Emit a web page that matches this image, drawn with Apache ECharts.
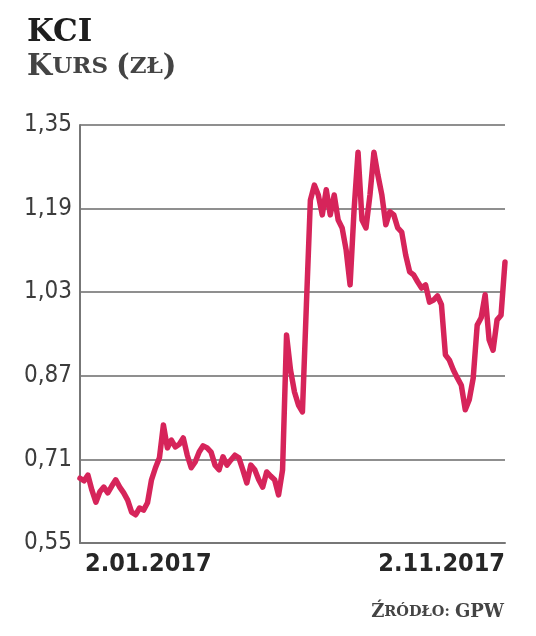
<!DOCTYPE html>
<html>
<head>
<meta charset="utf-8">
<script src="https://cdn.jsdelivr.net/npm/echarts@6/dist/echarts.min.js"></script>
<style>
html,body{margin:0;padding:0;background:#fff;}
#chart{width:536px;height:636px;}
</style>
</head>
<body>
<div id="chart"></div>
<script>
// Data (KCI share price, zł), 2.01.2017 – 2.11.2017
const xTickLabels = ['2.01.2017', '2.11.2017'];
const yTicks = [0.55, 0.71, 0.87, 1.03, 1.19, 1.35];
const prices = [
  0.674, 0.669, 0.680, 0.651, 0.628, 0.648, 0.657, 0.646, 0.659, 0.671,
  0.657, 0.646, 0.632, 0.609, 0.604, 0.617, 0.613, 0.627, 0.671, 0.694,
  0.713, 0.776, 0.732, 0.747, 0.734, 0.739, 0.751, 0.718, 0.694, 0.705,
  0.724, 0.736, 0.732, 0.724, 0.699, 0.690, 0.715, 0.699, 0.709, 0.718,
  0.713, 0.690, 0.665, 0.699, 0.690, 0.671, 0.657, 0.686, 0.678, 0.671,
  0.642, 0.690, 0.948, 0.881, 0.839, 0.814, 0.801, 1.006, 1.206, 1.235,
  1.216, 1.178, 1.226, 1.178, 1.216, 1.168, 1.153, 1.111, 1.044, 1.187,
  1.298, 1.168, 1.153, 1.216, 1.298, 1.254, 1.216, 1.159, 1.184, 1.178,
  1.153, 1.145, 1.101, 1.069, 1.063, 1.050, 1.038, 1.044, 1.011, 1.015,
  1.023, 1.006, 0.910, 0.900, 0.881, 0.866, 0.852, 0.805, 0.824, 0.866,
  0.967, 0.981, 1.025, 0.939, 0.919, 0.977, 0.986, 1.088
];

const lastIdx = prices.length - 1;
const seriesData = prices.map((v, i) => [i, v]);

const chart = echarts.init(document.getElementById('chart'), null, {renderer: 'canvas'});
chart.setOption({
  animation: false,
  backgroundColor: '#ffffff',
  title: [
    {
      text: 'KCI', left: 22, top: 12,
      textStyle: {fontFamily: 'DejaVu Serif', fontWeight: 'bold', fontSize: 31, color: '#1e1e1e'}
    },
    {
      text: '{a|K}{b|URS }{a|(}{b|ZŁ}{a|)}', left: 22, top: 48,
      textStyle: {
        rich: {
          a: {fontFamily: 'DejaVu Serif', fontSize: 29, color: '#444'},
          b: {fontFamily: 'DejaVu Serif', fontSize: 23, color: '#444'}
        }
      }
    },
    {
      text: '{a|Ź}{b|RÓDŁO: }{a|GPW}', right: 27, top: 598,
      textStyle: {
        rich: {
          a: {fontFamily: 'DejaVu Serif', fontSize: 18, color: '#444'},
          b: {fontFamily: 'DejaVu Serif', fontSize: 14.5, color: '#444'}
        }
      }
    }
  ],
  grid: {left: 80, right: 31, top: 125, bottom: 93, containLabel: false},
  xAxis: {
    type: 'value', min: 0, max: lastIdx, interval: lastIdx,
    axisLine: {show: true, lineStyle: {color: '#777', width: 2}},
    axisTick: {show: false},
    splitLine: {show: false},
    axisLabel: {
      margin: 9,
      fontFamily: 'Liberation Sans Narrow, Arial Narrow, DejaVu Sans Condensed, Roboto',
      fontWeight: 'bold', fontSize: 25, color: '#262626',
      alignMinLabel: 'left', alignMaxLabel: 'right',
      formatter: v => (v === 0 ? xTickLabels[0] : xTickLabels[1]),
      padding: [0, 0, 0, 5]
    }
  },
  yAxis: {
    type: 'value', min: yTicks[0], max: yTicks[yTicks.length - 1], interval: 0.16,
    axisLine: {show: true, lineStyle: {color: '#777', width: 2}},
    axisTick: {show: false},
    splitLine: {show: true, lineStyle: {color: '#6a6a6a', width: 1.6}},
    axisLabel: {
      margin: 8,
      fontFamily: 'Liberation Sans Narrow, Arial Narrow, DejaVu Sans Condensed, Roboto',
      fontSize: 24, color: '#3c3c3c',
      formatter: v => v.toFixed(2).replace('.', ',')
    }
  },
  series: [{
    type: 'line', data: seriesData, showSymbol: false,
    lineStyle: {color: '#d6245a', width: 5.5, join: 'round', cap: 'round'},
    z: 5
  }]
});
</script>
</body>
</html>
